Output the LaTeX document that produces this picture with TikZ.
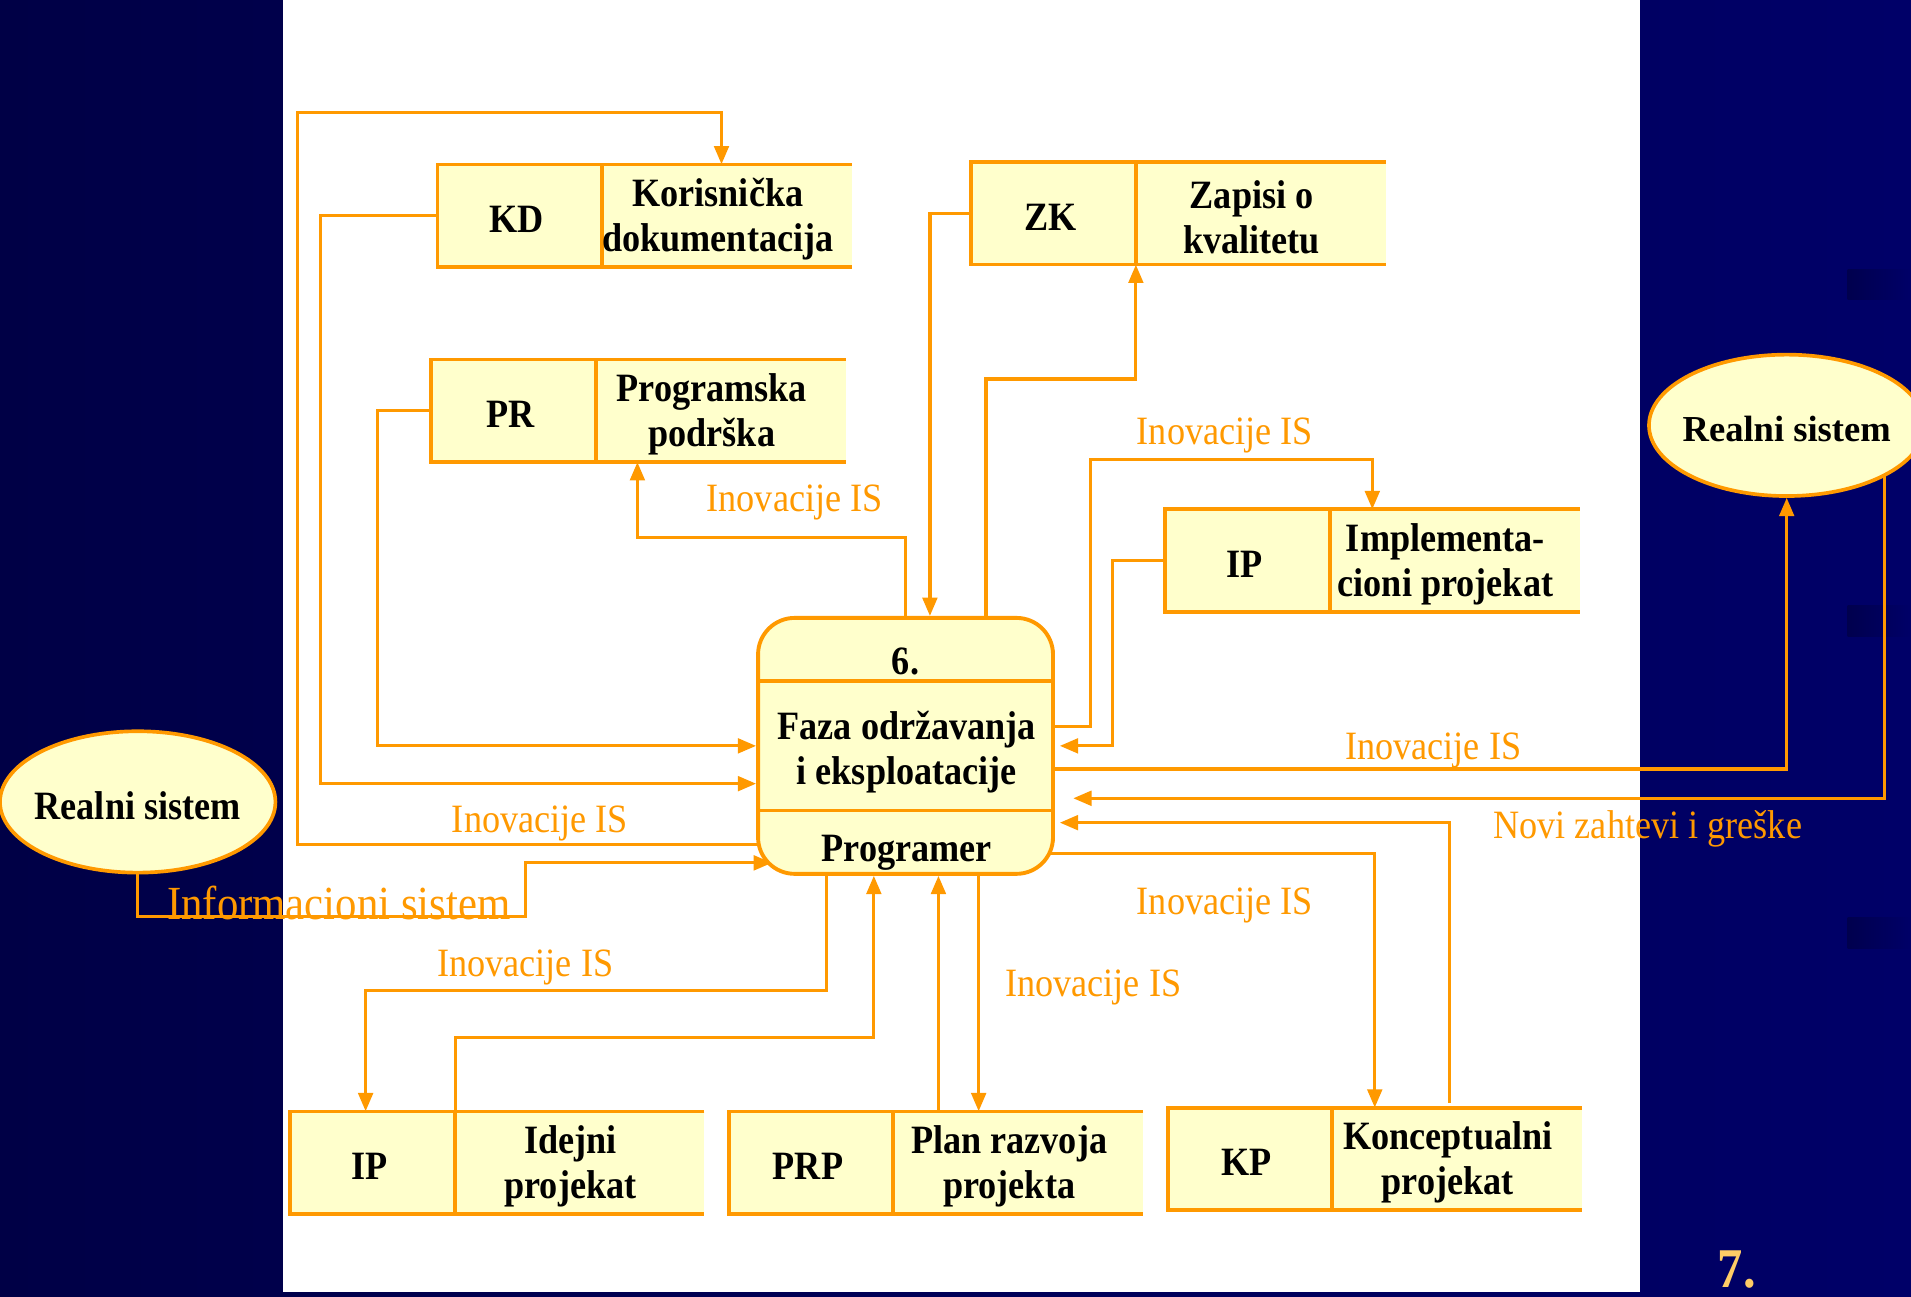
\documentclass[tikz,border=0pt]{standalone}
\usepackage{fontspec}
\setmainfont{Liberation Serif}[FakeStretch=0.9]
\newfontfamily\widefont{Liberation Serif}
\usetikzlibrary{arrows.meta,calc,shapes.geometric}
\definecolor{orng}{HTML}{FF9900}
\definecolor{pale}{HTML}{FFFFCC}
\definecolor{bgL}{RGB}{0,0,70}
\definecolor{bgR}{RGB}{0,0,104}
\definecolor{bgD}{RGB}{0,0,78}
\definecolor{gold}{HTML}{FFCC66}
\pgfdeclarelayer{bg}
\pgfdeclarelayer{lines}
\pgfsetlayers{bg,lines,main}
% name, x-left, y-top, abbreviation, line1, line2
\newcommand{\datastore}[6]{%
  \fill[pale] (#2,#3) rectangle ++(340,84);
  \node[inner sep=0pt,minimum width=340,minimum height=84] (#1) at ({#2+170},{#3+42}) {};
  \draw[boxline] ({#2+340},#3) -- (#2,#3) -- (#2,{#3+84}) -- ({#2+340},{#3+84});
  \draw[boxline] ({#2+135},#3) -- ({#2+135},{#3+84});
  \node[boxtxt] (#1-a) at ({#2+65},{#3+42}) {#4};
  \node[boxtxt] (#1-b) at ({#2+230},{#3+42}) {#5\\#6};
}
\begin{document}
\begin{tikzpicture}[x=1pt,y=-1pt,
  boxline/.style={draw=orng,line width=3.2pt},
  flow/.style={draw=orng,line width=2.6pt},
  arr/.style={flow,-{Triangle[length=15pt,width=12pt]}},
  boxtxt/.style={font=\fontsize{33}{37}\selectfont\bfseries,align=center,inner sep=0pt,yshift=-3pt},
  lbl/.style={text=orng,font=\fontsize{33}{37}\selectfont,inner sep=0pt,yshift=-3pt},
  extent/.style={ellipse,draw=orng,fill=pale,line width=3pt,minimum width=226,minimum height=116,inner sep=0pt}]
\useasboundingbox (0,0) rectangle (1568,1064);
\begin{pgfonlayer}{bg}
  \shade[left color=bgL,right color=bgR] (0,0) rectangle (1568,1064);
  \shade[left color=bgD,right color=bgR] (1516,221) rectangle (1568,246);
  \shade[left color=bgD,right color=bgR] (1516,497) rectangle (1568,522);
  \shade[left color=bgD,right color=bgR] (1516,753) rectangle (1568,778);
  \fill[white] (232,0) rectangle (1346,1060);
\end{pgfonlayer}

% process
\node[draw=orng,line width=3.2pt,fill=pale,rounded corners=30pt,
      minimum width=242,minimum height=210,inner sep=0pt] (proc) at (743,612) {};
\draw[boxline] (proc.west |- 0,559) -- (proc.east |- 0,559);
\draw[boxline] (proc.west |- 0,665) -- (proc.east |- 0,665);
\node[boxtxt] (p6) at (743,540) {6.};
\node[boxtxt] (pname) at (744,614) {Faza održavanja\\i eksploatacije};
\node[boxtxt] (prog) at (744,697) {Programer};

% external entities
\node[extent] (rs1) at (113,658) {};
\node[boxtxt] (rs1t) at (113,658) {Realni sistem};
\node[extent] (rs2) at (1466,349) {};
\node[boxtxt,font=\widefont\fontsize{30}{34}\selectfont\bfseries] (rs2t) at (1466,349) {Realni sistem};

% data stores
\datastore{kd}{359}{135}{KD}{Korisnička}{dokumentacija}
\datastore{zk}{797}{133}{ZK}{Zapisi o}{kvalitetu}
\datastore{pr}{354}{295}{PR}{Programska}{podrška}
\datastore{ipi}{956}{418}{IP}{Implementa-}{cioni projekat}
\datastore{ipd}{238}{912}{IP}{Idejni}{projekat}
\datastore{prp}{598}{912}{PRP}{Plan razvoja}{projekta}
\datastore{kp}{958}{909}{KP}{Konceptualni}{projekat}

% connectors
\begin{pgfonlayer}{lines}
  \draw[arr] (proc.center |- 0,693) -- (244,693) -- (244,92) -- (592,92) -- (kd.north -| 592,0);
  \draw[arr] (kd.west) -- (263,177) -- (263,643) -- (proc.west |- 0,643);
  \draw[arr] (pr.west) -- (310,337) -- (310,612) -- (proc.west |- 0,612);
  \draw[arr] (proc.center) -- (743,441) -- (523,441) -- (pr.south -| 523,0);
  \draw[arr] (zk.west) -- (763,175) -- (proc.north -| 763,0);
  \draw[arr] (proc.center -| 809,0) -- (809,311) -- (932,311) -- (zk.south -| 932,0);
  \draw[arr] (proc.center |- 0,596) -- (895,596) -- (895,377) -- (1126,377) -- (ipi.north -| 1126,0);
  \draw[arr] (ipi.west) -- (913,460) -- (913,612) -- ($(proc.east |- 0,612)+(4,0)$);
  \draw[arr] (proc.center |- 0,631) -- (1466,631) -- (rs2.south);
  \draw[arr] (rs2.center -| 1546,0) -- (1546,655) -- ($(proc.east |- 0,655)+(15,0)$);
  \draw[arr] ($(kp.north -| 1189,0)+(0,-4)$) -- (1189,675) -- ($(proc.east |- 0,675)+(4,0)$);
  \draw[arr] (proc.center |- 0,700) -- (1128,700) -- (kp.north -| 1128,0);
  \draw[arr] (rs1.center) -- (113,752) -- (431,752) -- (431,708) -- ($(proc.west |- 0,708)+(13,0)$);
  \draw[arr] (proc.center -| 678,0) -- (678,813) -- (300,813) -- (ipd.north -| 300,0);
  \draw[arr] (ipd.north -| 374,0) -- (374,851) -- (717,851) -- (proc.south -| 717,0);
  \draw[arr] (prp.north -| 770,0) -- (proc.south -| 770,0);
  \draw[arr] (proc.center -| 803,0) -- (prp.north -| 803,0);
\end{pgfonlayer}

% labels
\node[lbl] (l1) at (443,673) {Inovacije IS};
\node[lbl] (l2) at (652,409) {Inovacije IS};
\node[lbl] (l3) at (1005,354) {Inovacije IS};
\node[lbl] (l4) at (1176,613) {Inovacije IS};
\node[lbl] (l5) at (1005,740) {Inovacije IS};
\node[lbl] (l6) at (431,791) {Inovacije IS};
\node[lbl] (l7) at (897,807) {Inovacije IS};
\node[lbl] (l8) at (1352,677) {Novi zahtevi i greške};
\node[lbl,font=\fontsize{39}{44}\selectfont] (l9) at (278,738) {Informacioni sistem};
\node[text=gold,font=\fontsize{46}{50}\selectfont\bfseries,anchor=base,inner sep=0pt] (pg) at (1425,1056) {7.};
\end{tikzpicture}
\end{document}
